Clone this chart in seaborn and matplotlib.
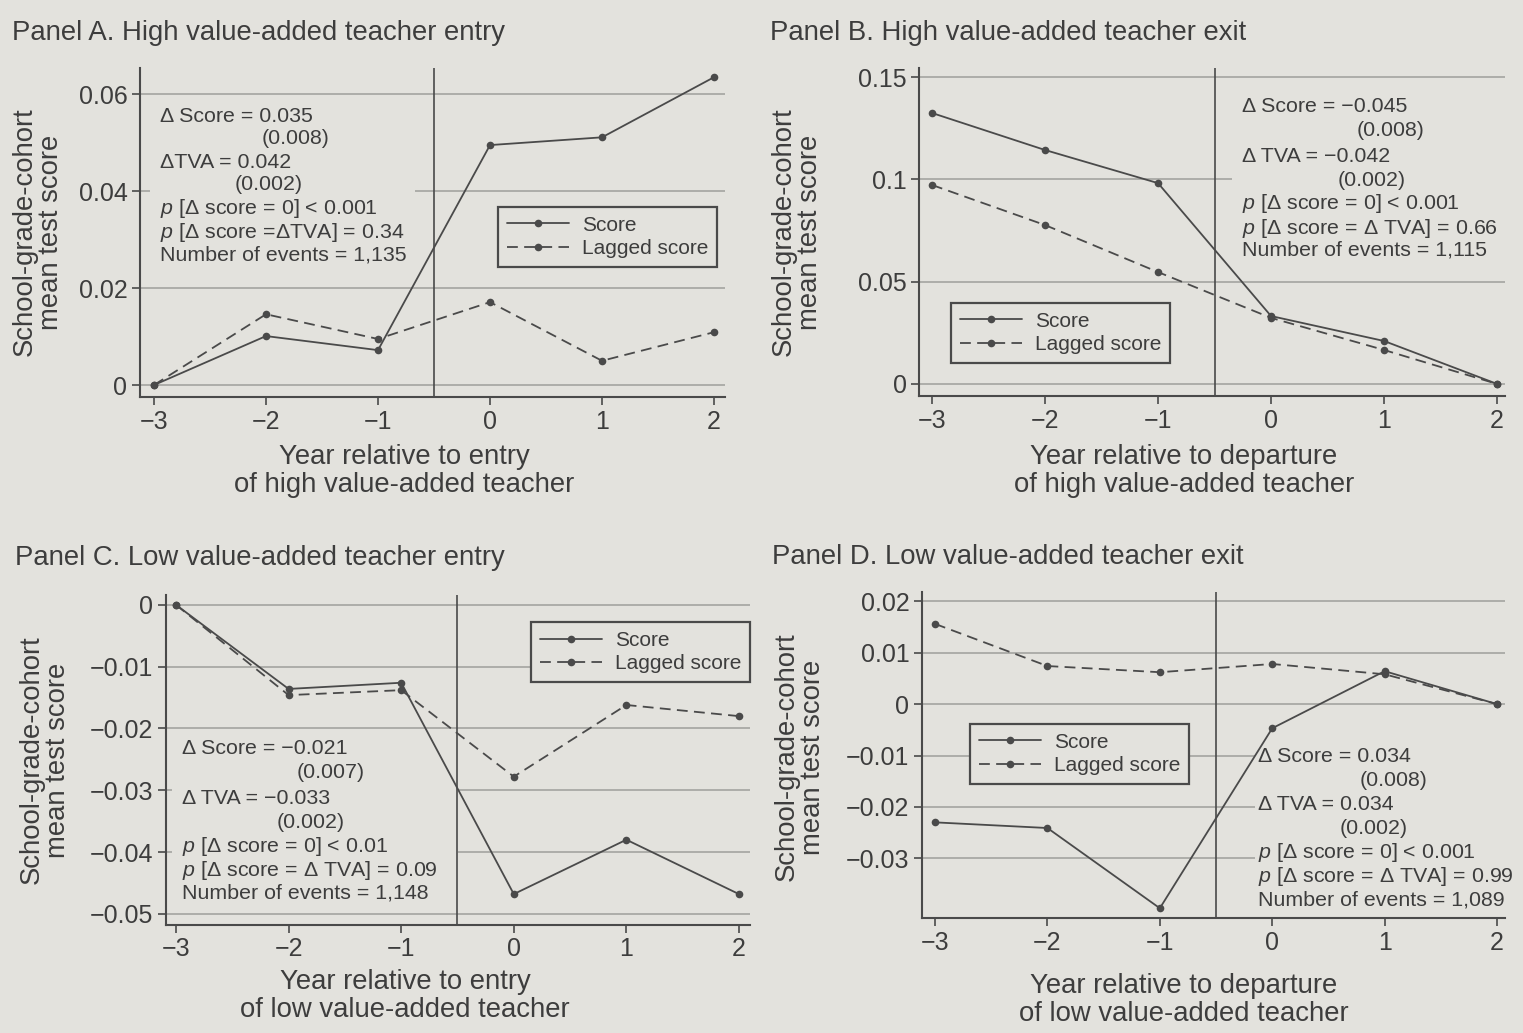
import numpy as np
import pandas as pd
import matplotlib
matplotlib.use("Agg")
import matplotlib.pyplot as plt
from matplotlib.lines import Line2D
from matplotlib.patches import Rectangle
from matplotlib.ticker import FixedLocator, FuncFormatter
import seaborn as sns

# ---------------- data ----------------
years = [-3, -2, -1, 0, 1, 2]

score_a = [0.0, 0.0101, 0.0072, 0.0495, 0.0511, 0.0635]
lagged_a = [0.0, 0.0146, 0.0095, 0.0171, 0.0050, 0.0109]
score_b = [0.1325, 0.1144, 0.0982, 0.0332, 0.0210, 0.0]
lagged_b = [0.0973, 0.0777, 0.0547, 0.0323, 0.0166, 0.0]
score_c = [0.0, -0.0136, -0.0126, -0.0468, -0.0380, -0.0468]
lagged_c = [0.0, -0.0146, -0.0138, -0.0278, -0.0162, -0.0180]
score_d = [-0.0230, -0.0241, -0.0397, -0.0047, 0.0064, 0.0]
lagged_d = [0.0156, 0.0074, 0.0062, 0.0078, 0.0058, 0.0]

yticks_a = [0, 0.02, 0.04, 0.06]
yticks_b = [0, 0.05, 0.1, 0.15]
yticks_c = [0, -0.01, -0.02, -0.03, -0.04, -0.05]
yticks_d = [0.02, 0.01, 0, -0.01, -0.02, -0.03]

titles = ["Panel A. High value-added teacher entry",
          "Panel B. High value-added teacher exit",
          "Panel C. Low value-added teacher entry",
          "Panel D. Low value-added teacher exit"]
xlabels = ["Year relative to entry\nof high value-added teacher",
           "Year relative to departure\nof high value-added teacher",
           "Year relative to entry\nof low value-added teacher",
           "Year relative to departure\nof low value-added teacher"]
ylabel = "School-grade-cohort\nmean test score"
legend_labels = ["Score", "Lagged score"]

stats_a = ["Δ Score = 0.035", "(0.008)", "ΔTVA = 0.042", "(0.002)",
           "$\\it{p}$ [Δ score = 0] < 0.001", "$\\it{p}$ [Δ score =ΔTVA] = 0.34",
           "Number of events = 1,135"]
stats_b = ["Δ Score = −0.045", "(0.008)", "Δ TVA = −0.042", "(0.002)",
           "$\\it{p}$ [Δ score = 0] < 0.001", "$\\it{p}$ [Δ score = Δ TVA] = 0.66",
           "Number of events = 1,115"]
stats_c = ["Δ Score = −0.021", "(0.007)", "Δ TVA = −0.033", "(0.002)",
           "$\\it{p}$ [Δ score = 0] < 0.01", "$\\it{p}$ [Δ score = Δ TVA] = 0.09",
           "Number of events = 1,148"]
stats_d = ["Δ Score = 0.034", "(0.008)", "Δ TVA = 0.034", "(0.002)",
           "$\\it{p}$ [Δ score = 0] < 0.001", "$\\it{p}$ [Δ score = Δ TVA] = 0.99",
           "Number of events = 1,089"]

# ---------------- style ----------------
W, H = 1523, 1033
BG = "#e3e2dd"
INK = "#3d3d3d"
LINE = "#4a4a4a"
GRID = "#a9a9a5"
LW = 1.3
MS = 5.5
DASH = (0, (6, 3.5))

sns.set_style("ticks")
plt.rcParams["font.family"] = ["Liberation Sans", "DejaVu Sans"]
plt.rcParams["mathtext.fontset"] = "custom"
plt.rcParams["mathtext.rm"] = "Liberation Sans"
plt.rcParams["mathtext.it"] = "Liberation Sans:italic"
plt.rcParams["text.color"] = INK
plt.rcParams["axes.unicode_minus"] = True

fig = plt.figure(figsize=(W / 100, H / 100), dpi=100, facecolor=BG)


def fx(x):
    return x / W


def fy(y):
    return 1 - y / H


def fmt(v, pos):
    s = ("%g" % round(v, 4))
    return s.replace("-", "−")


panels = [
    dict(score=score_a, lagged=lagged_a, yticks=yticks_a,
         rect=(140, 68, 725, 397), xlim=(-3.125, 2.098), ylim=(-0.00247, 0.0654),
         title=(12, 33), xlab=(404, 471), ylab=(38, 232),
         leg=(0.612, 0.5775), box=(150, 100, 415, 268),
         stats=stats_a, sx=[160, 262, 160, 235, 160, 160, 160],
         sy=[116, 139, 162, 185, 208, 232, 255]),
    dict(score=score_b, lagged=lagged_b, yticks=yticks_b,
         rect=(919, 68, 1505, 396), xlim=(-3.115, 2.07), ylim=(-0.0059, 0.1545),
         title=(770, 33), xlab=(1184, 471), ylab=(797, 232),
         leg=(0.0546, 0.2835), box=(1232, 92, 1505, 266),
         stats=stats_b, sx=[1242, 1357, 1242, 1338, 1242, 1242, 1242],
         sy=[107, 131, 156, 180, 204, 228, 250]),
    dict(score=score_c, lagged=lagged_c, yticks=yticks_c,
         rect=(166, 595, 750, 925), xlim=(-3.089, 2.098), ylim=(-0.0518, 0.0016),
         title=(15, 558), xlab=(405, 996), ylab=(45, 760),
         leg=(0.625, 0.918), box=(172, 738, 458, 905),
         stats=stats_c, sx=[182, 297, 182, 277, 182, 182, 182],
         sy=[749, 773, 798, 822, 847, 870, 893]),
    dict(score=score_d, lagged=lagged_d, yticks=yticks_d,
         rect=(922, 592, 1505, 918), xlim=(-3.116, 2.071), ylim=(-0.0416, 0.0218),
         title=(772, 557), xlab=(1184, 1000), ylab=(800, 757),
         leg=(0.0823, 0.595), box=(1255, 742, 1505, 912),
         stats=stats_d, sx=[1258, 1360, 1258, 1340, 1258, 1258, 1258],
         sy=[756, 780, 805, 829, 853, 877, 900]),
]

for i, p in enumerate(panels):
    l, t, r, b = p["rect"]
    ax = fig.add_axes([fx(l), fy(b), fx(r - l), (b - t) / H])
    ax.set_facecolor(BG)
    ax.set_axisbelow(True)
    for s in ["top", "right"]:
        ax.spines[s].set_visible(False)
    for s in ["left", "bottom"]:
        ax.spines[s].set_color(LINE)
        ax.spines[s].set_linewidth(1.5)

    df = pd.DataFrame({"year": years, "score": p["score"], "lagged": p["lagged"]})
    sns.lineplot(data=df, x="year", y="score", ax=ax, color=LINE, lw=LW,
                 marker="o", markersize=MS, markeredgewidth=0, sort=False,
                 zorder=3)
    sns.lineplot(data=df, x="year", y="lagged", ax=ax, color=LINE, lw=LW,
                 linestyle=DASH, marker="o", markersize=MS,
                 markeredgewidth=0, sort=False, zorder=3)
    ax.axvline(-0.5, color=LINE, lw=1.2, zorder=2.5)

    ax.set_xlim(*p["xlim"])
    ax.set_ylim(*p["ylim"])
    ax.xaxis.set_major_locator(FixedLocator(years))
    ax.xaxis.set_major_formatter(FuncFormatter(fmt))
    ax.yaxis.set_major_locator(FixedLocator(p["yticks"]))
    ax.yaxis.set_major_formatter(FuncFormatter(fmt))
    ax.tick_params(axis="both", direction="out", length=6, width=1.2,
                   color=LINE, labelcolor=INK, labelsize=18, pad=3)
    ax.grid(axis="y", color=GRID, lw=1.3)
    ax.grid(axis="x", visible=False)
    ax.set_xlabel("")
    ax.set_ylabel("")

    # background box behind stats text (covers grid lines)
    bl, bt, br, bb = p["box"]
    ax.add_patch(Rectangle((fx(bl), fy(bb)), fx(br - bl), (bb - bt) / H,
                           transform=fig.transFigure, facecolor=BG,
                           edgecolor="none", zorder=1))

    handles = [Line2D([], [], color=LINE, lw=LW, marker="o", markersize=MS,
                      markeredgewidth=0),
               Line2D([], [], color=LINE, lw=LW, linestyle=DASH,
                      marker="o", markersize=MS, markeredgewidth=0)]
    leg = ax.legend(handles, legend_labels, loc="upper left",
                    bbox_to_anchor=p["leg"], borderaxespad=0, numpoints=1,
                    fontsize=15, handlelength=3.0, handletextpad=0.6,
                    labelspacing=0.2, borderpad=0.42, fancybox=False,
                    framealpha=1, facecolor=BG, edgecolor=LINE)
    leg.get_frame().set_linewidth(1.6)
    leg.set_zorder(4)

    # texts
    fig.text(fx(p["title"][0]), fy(p["title"][1]), titles[i], fontsize=19.8,
             ha="left", va="center", color=INK)
    fig.text(fx(p["xlab"][0]), fy(p["xlab"][1]), xlabels[i], fontsize=19.8,
             ha="center", va="center", color=INK, linespacing=1.12)
    fig.text(fx(p["ylab"][0]), fy(p["ylab"][1]), ylabel, fontsize=19.8,
             ha="center", va="center", rotation=90, color=INK,
             linespacing=1.0, multialignment="center")
    for txt, x, y in zip(p["stats"], p["sx"], p["sy"]):
        fig.text(fx(x), fy(y), txt, fontsize=15.4, ha="left", va="center",
                 color=INK)

fig.savefig("out.png", dpi=100, facecolor=BG)
